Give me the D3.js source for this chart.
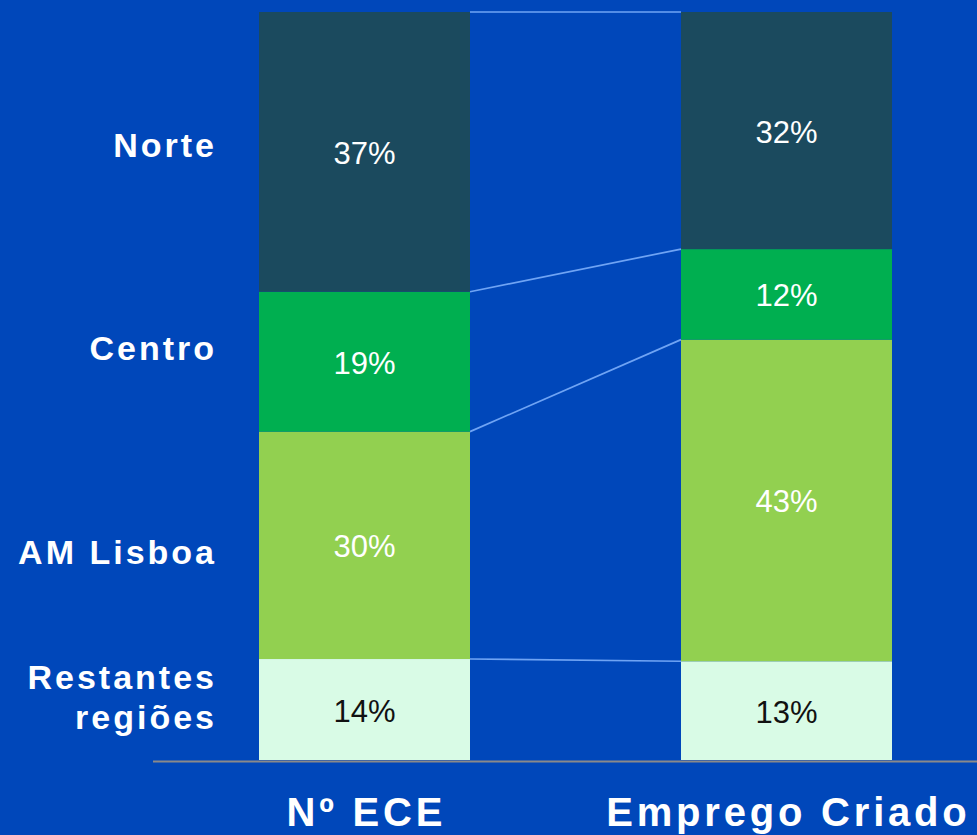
<!DOCTYPE html>
<html>
<head>
<meta charset="utf-8">
<script src="https://cdn.jsdelivr.net/npm/d3@7"></script>
<style>
  html, body { margin: 0; padding: 0; background: #0047BA; }
  svg { display: block; }
</style>
</head>
<body>
<svg id="chart" width="977" height="835"></svg>
<script>
// ---- data ----
const bars = ["Nº ECE", "Emprego Criado"];
const regions = ["Norte", "Centro", "AM Lisboa", "Restantes regiões"];
const regionLabelLines = [["Norte"], ["Centro"], ["AM Lisboa"], ["Restantes", "regiões"]];
const valuesECE = [37.4, 18.7, 30.4, 13.5];
const valuesEmprego = [31.7, 12.1, 43.0, 13.2];

// ---- styles ----
const colors = ["#1B4A5E", "#00AF50", "#92D050", "#D9FBE6"];
const textColors = ["#FFFFFF", "#FFFFFF", "#FFFFFF", "#111111"];
const labelNudge = [-7, -14, 7, -13];

const svg = d3.select("#chart");
const W = 977, H = 835;
svg.append("rect").attr("width", W).attr("height", H).attr("fill", "#0047BA");

const x = d3.scaleBand().domain(bars).range([259, 892]).paddingInner(0.5).paddingOuter(0);
const y = d3.scaleLinear().domain([0, 100]).range([760, 12]);

const series = [valuesECE, valuesEmprego];
const table = bars.map((b, i) => {
  const o = { bar: b };
  regions.forEach((r, j) => { o[r] = series[i][j]; });
  return o;
});
const stack = d3.stack().keys(regions.slice().reverse());
const stacked = stack(table);

const g = svg.append("g");

// connector lines between bars at segment tops
regions.forEach((r, j) => {
  const layer = stacked.find(s => s.key === r);
  g.append("line")
    .attr("x1", x(bars[0]) + x.bandwidth())
    .attr("x2", x(bars[1]))
    .attr("y1", y(layer[0][1])).attr("y2", y(layer[1][1]))
    .attr("stroke", "#6FA4F4").attr("stroke-width", 1.7);
});

// bars
stacked.forEach(layer => {
  const j = regions.indexOf(layer.key);
  layer.forEach((d, i) => {
    g.append("rect")
      .attr("x", x(bars[i]))
      .attr("width", x.bandwidth())
      .attr("y", y(d[1]))
      .attr("height", y(d[0]) - y(d[1]))
      .attr("fill", colors[j]);
    g.append("text")
      .attr("x", x(bars[i]) + x.bandwidth() / 2)
      .attr("y", (y(d[0]) + y(d[1])) / 2 + 12)
      .attr("text-anchor", "middle")
      .attr("font-family", "'Liberation Sans', Arial, sans-serif")
      .attr("font-size", 31)
      .attr("fill", textColors[j])
      .text(Math.round(d[1] - d[0]) + "%");
  });
});

// baseline
svg.append("line")
  .attr("x1", 153).attr("x2", W)
  .attr("y1", y(0) + 1.5).attr("y2", y(0) + 1.5)
  .attr("stroke", "#8A8A8A").attr("stroke-width", 2);

// left region labels
const ls = 3;
regions.forEach((r, j) => {
  const layer = stacked.find(s => s.key === r);
  const d = layer[0];
  const cy = (y(d[0]) + y(d[1])) / 2 + labelNudge[j];
  const lines = regionLabelLines[j];
  const lh = 40;
  lines.forEach((t, k) => {
    svg.append("text")
      .attr("x", 214 + ls)
      .attr("y", cy + 12 + (k - (lines.length - 1) / 2) * lh)
      .attr("text-anchor", "end")
      .attr("font-family", "'Liberation Sans', Arial, sans-serif")
      .attr("font-weight", "bold")
      .attr("font-size", 34)
      .attr("letter-spacing", ls)
      .attr("fill", "#FFFFFF")
      .text(t);
  });
});

// bottom category labels
const ls2 = 3.8;
bars.forEach(b => {
  svg.append("text")
    .attr("x", x(b) + x.bandwidth() / 2 + ls2 / 2)
    .attr("y", 826)
    .attr("text-anchor", "middle")
    .attr("font-family", "'Liberation Sans', Arial, sans-serif")
    .attr("font-weight", "bold")
    .attr("font-size", 40)
    .attr("letter-spacing", ls2)
    .attr("fill", "#FFFFFF")
    .text(b);
});
</script>
</body>
</html>
